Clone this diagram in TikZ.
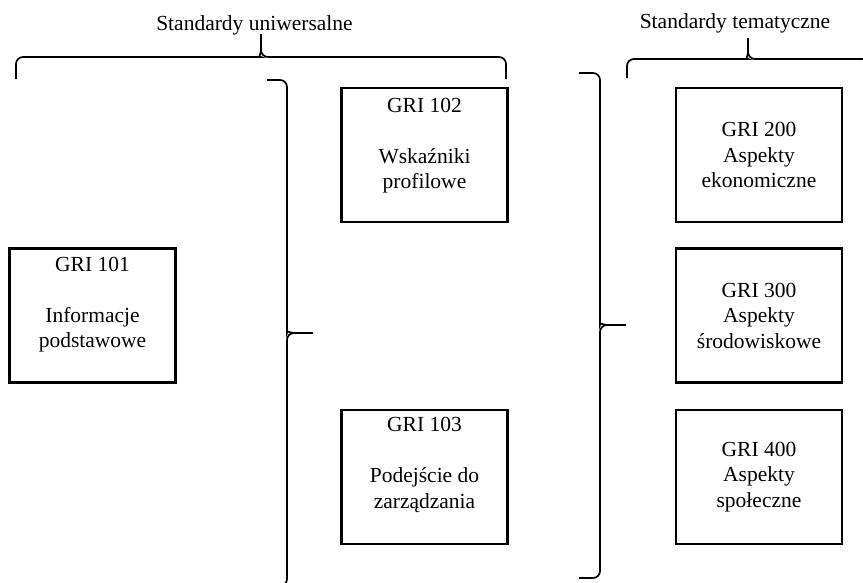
\documentclass[tikz,border=0pt]{standalone}
\usepackage{fontspec}
\setmainfont{Liberation Serif}

\begin{document}
\begin{tikzpicture}
  [x=1pt,y=-1pt,
   every node/.style={font=\fontsize{21.5}{25.5}\selectfont,align=center,inner sep=0pt}]

  \tikzstyle{gribox} = [draw,line width=2.8pt,minimum width=166pt,minimum height=134pt]
  \tikzstyle{brace}  = [line width=1.7pt,rounded corners=7pt]

  \useasboundingbox (0,0) rectangle (863,582);

  % standardy uniwersalne
  \node[gribox] (g101) at (92.5,315.5) {};
  \node[gribox] (g102) at (424.5,155)  {};
  \node[gribox] (g103) at (424.5,477)  {};

  \node[anchor=base] (t101) at ([yshift=-100.5pt]g101.north) {GRI 101\\[25.5pt]Informacje\\podstawowe};
  \node[anchor=base] (t102) at ([yshift=-102pt]g102.north)   {GRI 102\\[25.5pt]Wskaźniki\\profilowe};
  \node[anchor=base] (t103) at ([yshift=-99.5pt]g103.north)  {GRI 103\\[25.5pt]Podejście do\\zarządzania};

  % standardy tematyczne
  \node[gribox] (g200) at (759,155)   {GRI 200\\Aspekty\\ekonomiczne};
  \node[gribox] (g300) at (759,315.5) {GRI 300\\Aspekty\\środowiskowe};
  \node[gribox] (g400) at (759,477)   {GRI 400\\Aspekty\\społeczne};

  \node[anchor=base] (uni) at (254.5,30) {Standardy uniwersalne};
  \node[anchor=base] (tem) at (735,28)   {Standardy tematyczne};

  % klamry
  \draw[brace] (16,79) -- (16,57) -- (254,57) [sharp corners] to[out=0,in=-90] (261,50) -- (261,34)
               (261,50) to[out=-90,in=180] (268,57) [rounded corners=7pt] -- (506,57) -- (506,79);
  \draw[brace] (627,78) -- (627,59) -- (741,59) [sharp corners] to[out=0,in=-90] (748,52) -- (748,38)
               (748,52) to[out=-90,in=180] (755,59) [rounded corners=7pt] -- (869,59) -- (869,78);
  \draw[brace] (267,80) -- (287,80) -- (287,326) [sharp corners] to[out=-90,in=180] (294,333) -- (313,333)
               (294,333) to[out=180,in=90] (287,340) [rounded corners=7pt] -- (287,586) -- (267,586);
  \draw[brace] (579,73) -- (600,73) -- (600,318) [sharp corners] to[out=-90,in=180] (607,325) -- (626,325)
               (607,325) to[out=180,in=90] (600,332) [rounded corners=7pt] -- (600,578) -- (579,578);
\end{tikzpicture}
\end{document}
